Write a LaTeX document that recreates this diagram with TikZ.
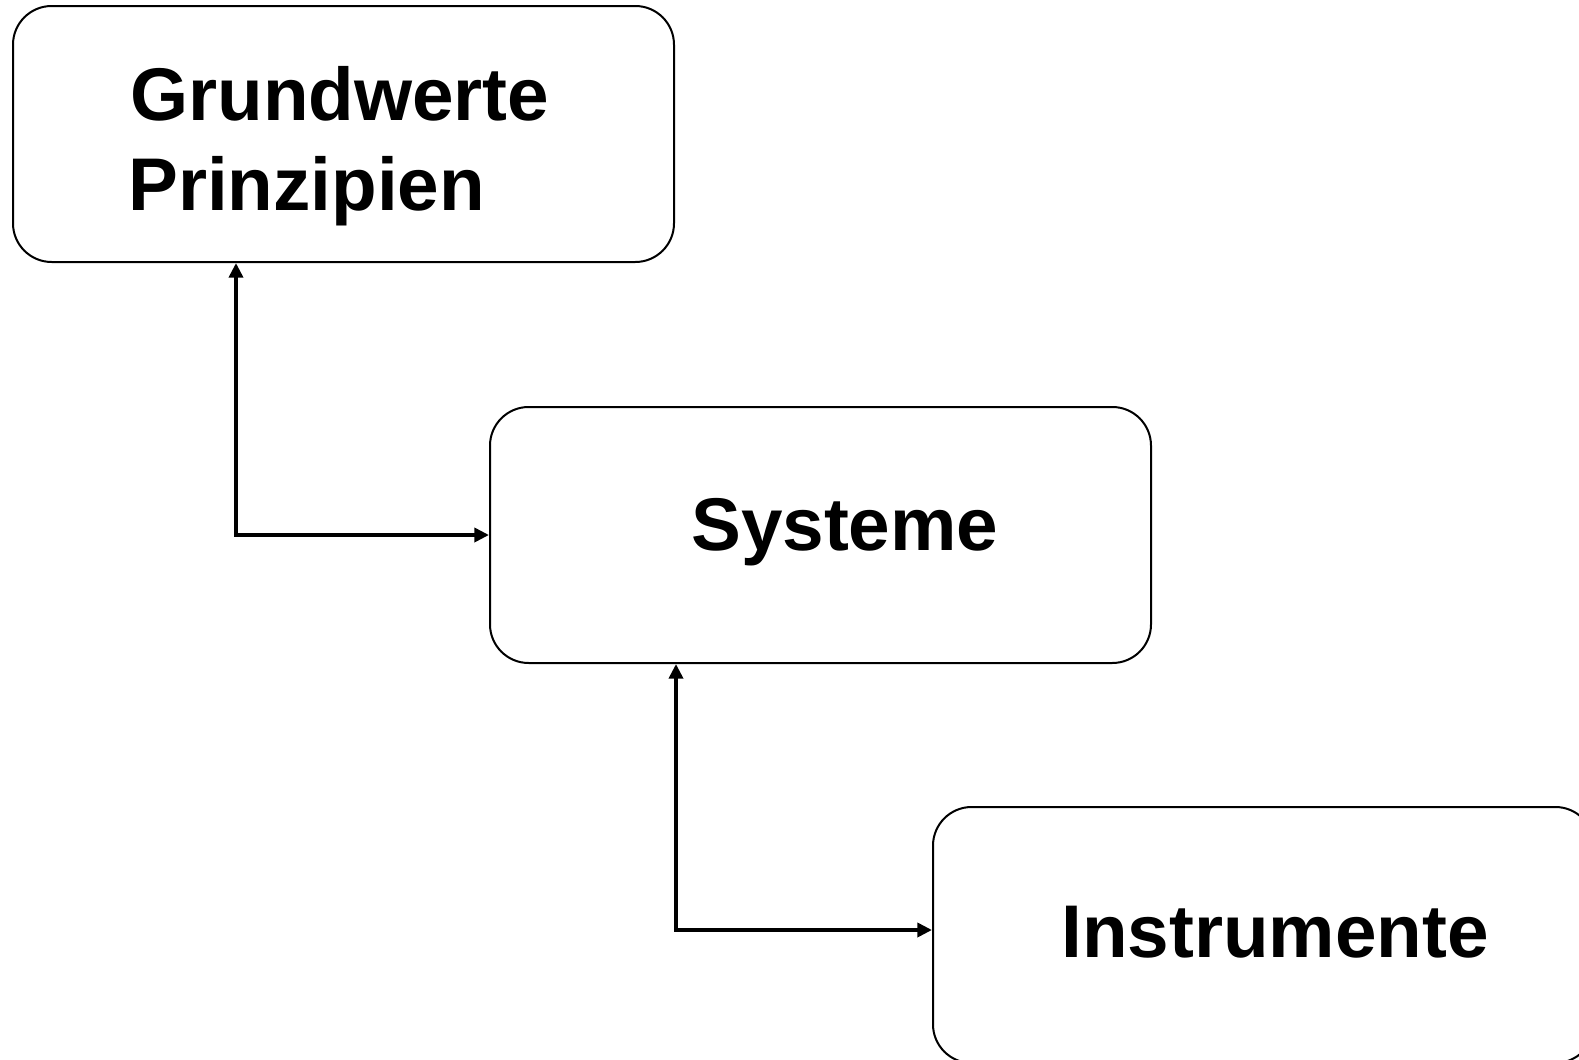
\documentclass[tikz,border=0pt]{standalone}
\usepackage{fontspec}
\setmainfont{Liberation Sans}
\usetikzlibrary{arrows.meta,calc}
\begin{document}
\begin{tikzpicture}[x=0.75pt,y=-0.75pt,
  box/.style={draw,line width=1.5pt,rounded corners=29pt,minimum width=495.75pt,minimum height=192pt,inner sep=0pt},
  lbl/.style={anchor=base west,inner sep=0pt,font=\fontsize{56}{67.5}\selectfont\bfseries},
  arr/.style={line width=2.8pt,{Triangle[length=11pt,width=10.5pt]}-{Triangle[length=11pt,width=10.5pt]}}]
\useasboundingbox (0,0) rectangle (1579,1060);
\clip (0,0) rectangle (1579,1060);
\node[box] (box1) at (343.5,134) {};
\node[box] (box2) at (820.5,535) {};
\node[box] (box3) at (1263.5,935) {};
\node[lbl] (t1) at (130,120) {Grundwerte};
\node[lbl] (t2) at (128,210.5) {Prinzipien};
\node[lbl] (t3) at (691,550) {Systeme};
\node[lbl] (t4) at (1061,957) {Instrumente};
\draw[arr] ($(box1.south west)+(224,0)$) |- (box2.west);
\draw[arr] ($(box2.south west)+(187,0)$) |- ($(box3.west)+(0,-5)$);
\end{tikzpicture}
\end{document}
